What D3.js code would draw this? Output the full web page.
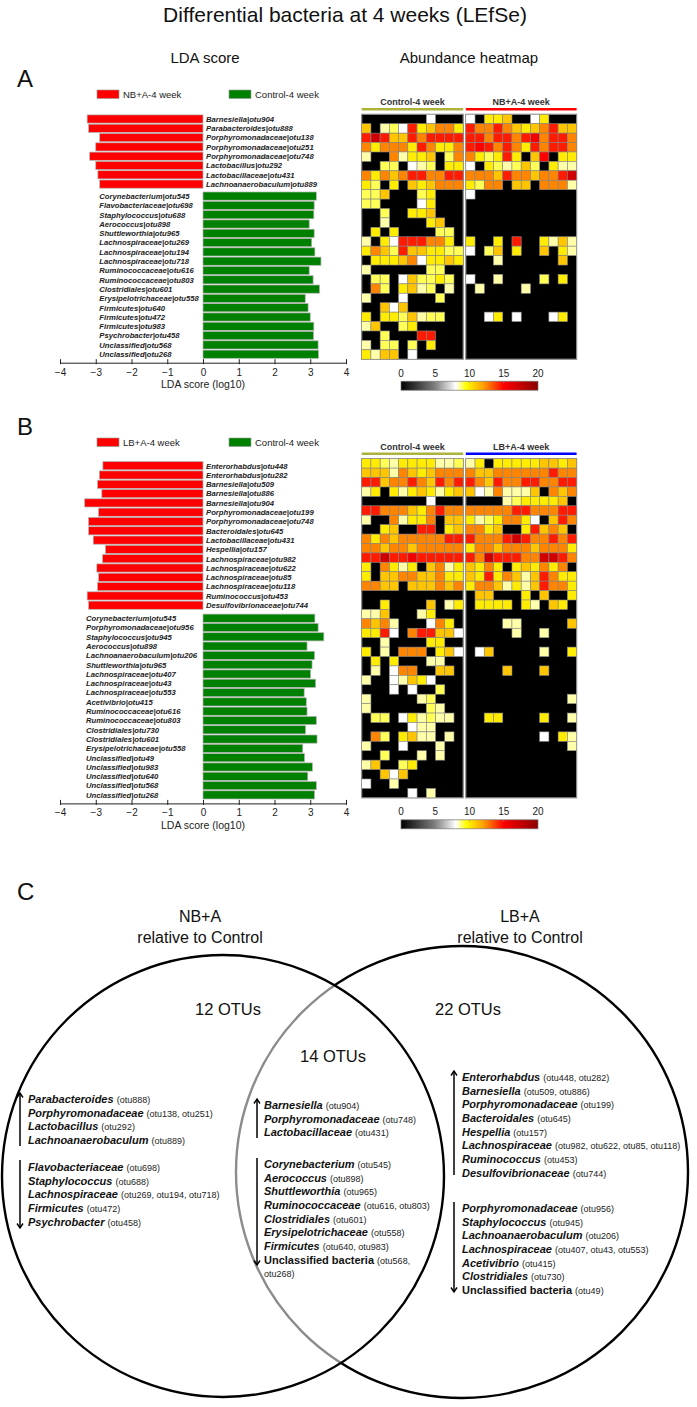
<!DOCTYPE html>
<html><head><meta charset="utf-8">
<script src="https://cdn.jsdelivr.net/npm/d3@7"></script>
<style>
body{margin:0;background:#fff}
svg{display:block}
text{font-family:"Liberation Sans",Arial,Helvetica,sans-serif}
</style>
</head><body>
<svg id="c" width="697" height="1407"></svg>
<script>
// ---------------- DATA ----------------
const ldaTicks = [-4,-3,-2,-1,0,1,2,3,4];
const colorTicks = [0,5,10,15,20];

// Panel A
const aLegend = ["NB+A-4 week","Control-4 week"];
const aHeatGroups = ["Control-4 week","NB+A-4 week"];
const aTaxa = ["Barnesiella|otu904","Parabacteroides|otu888","Porphyromonadaceae|otu138","Porphyromonadaceae|otu251",
  "Porphyromonadaceae|otu748","Lactobacillus|otu292","Lactobacillaceae|otu431","Lachnoanaerobaculum|otu889",
  "Corynebacterium|otu545","Flavobacteriaceae|otu698","Staphylococcus|otu688","Aerococcus|otu898",
  "Shuttleworthia|otu965","Lachnospiraceae|otu269","Lachnospiraceae|otu194","Lachnospiraceae|otu718",
  "Ruminococcaceae|otu616","Ruminococcaceae|otu803","Clostridiales|otu601","Erysipelotrichaceae|otu558",
  "Firmicutes|otu640","Firmicutes|otu472","Firmicutes|otu983","Psychrobacter|otu458",
  "Unclassified|otu568","Unclassified|otu268"];
const aLDA = [-3.24,-3.20,-2.89,-3.00,-3.17,-3.00,-2.94,-2.89,
  3.17,3.11,3.10,2.97,3.11,3.04,3.13,3.30,2.97,3.08,3.26,2.86,2.94,3.00,3.10,3.09,3.22,3.23];
const aHeatControl = [
  [0,0,0,0,0,0,0,8,0,0,0],
  [11,0,8.5,9,8,14.5,10,11,12.5,12.5,10],
  [14.5,17,14.5,11,11,14.5,12.5,14.5,14.5,14.5,14.5],
  [12.5,10,12.5,12.5,12.5,10,14.5,12.5,10,10,12.5],
  [8.5,0,0,12.5,8.5,10,10,11,0,9,12.5],
  [0,0,9,9,0,8,8.5,9,0,10,10],
  [12.5,10,12.5,11,12.5,14.5,14.5,12.5,12.5,14.5,14.5],
  [10,9,0,10,0,11,10,11,12.5,12.5,12.5],
  [9,9,11,0,0,0,9,10,0,0,0],
  [9,9,0,0,0,0,8,10,0,0,0],
  [0,0,9,0,0,10,10,11,0,0,0],
  [0,0,8.5,0,0,0,0,10,11,0,0],
  [0,10,0,10,0,0,0,0,9,9,0],
  [8.5,0,10,8,14.5,14.5,14.5,12.5,12.5,10,0],
  [10,12.5,11,9,14.5,11,11,10,10,9,9],
  [0,10,10,10,11,12.5,8,10,10,11,10],
  [8.5,0,0,0,0,0,0,9,9,0,0],
  [0,9,9,0,8,11,9,9,10,9,0],
  [0,12.5,9,0,10,11,8.5,9,0,8.5,0],
  [8.5,0,0,0,8,0,0,0,9,0,0],
  [0,0,11,8,11,0,0,0,0,0,0],
  [10,0,10,10,9,11,8.5,9,9,0,0],
  [8.5,11,0,0,9,10,0,0,0,0,0],
  [0,0,9,0,0,0,14.5,14.5,0,0,0],
  [8.5,0,9,9,0,9,0,10,0,0,0],
  [10,8.5,11,11,0,8,0,0,0,0,0]];
const aHeatTreated = [
  [8,0,10,10,11,0,0,8,10,0,0,0],
  [14.5,12.5,12.5,14.5,12.5,11,10,11,12.5,14.5,11,11],
  [14.5,14.5,12.5,14.5,14.5,12.5,14.5,15.5,12.5,14.5,14.5,12.5],
  [14.5,15,14.5,12.5,14.5,12.5,10,14.5,12.5,14.5,14.5,12.5],
  [12.5,10,9,10,14.5,10,0,11,15,0,10,10],
  [8,0,10,9,8.5,9,11,9,0,10,8.5,8.5],
  [12.5,12.5,12.5,11,14.5,12.5,12.5,11,12.5,12.5,14.5,17],
  [10,9,12.5,12.5,0,11,11,0,12.5,12.5,12.5,8.5],
  [8,0,0,0,0,0,0,0,0,0,0,0],
  [0,0,0,0,0,0,0,0,0,0,0,0],
  [0,0,0,0,0,0,0,0,0,0,0,0],
  [0,0,0,0,0,0,0,0,0,0,0,0],
  [0,0,0,0,0,0,0,0,0,0,0,0],
  [10,0,0,10,0,14.5,0,0,10,8.5,11,8.5],
  [8,0,9,11,0,10,0,0,11,0,10,8.5],
  [0,0,0,8.5,0,0,0,0,0,0,11,0],
  [0,0,0,0,0,0,0,0,0,0,0,0],
  [8,0,0,8.5,0,0,0,0,9,0,10,0],
  [0,8.5,0,0,0,0,8.5,0,0,0,0,0],
  [0,0,0,0,0,0,0,0,0,0,0,0],
  [0,0,0,0,0,0,0,0,0,0,0,0],
  [0,0,8,10,0,8,0,0,0,8,10,0],
  [0,0,0,0,0,0,0,0,0,0,0,0],
  [0,0,0,0,0,0,0,0,0,0,0,0],
  [0,0,0,0,0,0,0,0,0,0,0,0],
  [0,0,0,0,0,0,0,0,0,0,0,0]];

// Panel B
const bLegend = ["LB+A-4 week","Control-4 week"];
const bHeatGroups = ["Control-4 week","LB+A-4 week"];
const bTaxa = ["Enterorhabdus|otu448","Enterorhabdus|otu282","Barnesiella|otu509","Barnesiella|otu886",
  "Barnesiella|otu904","Porphyromonadaceae|otu199","Porphyromonadaceae|otu748","Bacteroidales|otu645",
  "Lactobacillaceae|otu431","Hespellia|otu157","Lachnospiraceae|otu982","Lachnospiraceae|otu622",
  "Lachnospiraceae|otu85","Lachnospiraceae|otu118","Ruminococcus|otu453","Desulfovibrionaceae|otu744",
  "Corynebacterium|otu545","Porphyromonadaceae|otu956","Staphylococcus|otu945","Aerococcus|otu898",
  "Lachnoanaerobaculum|otu206","Shuttleworthia|otu965","Lachnospiraceae|otu407","Lachnospiraceae|otu43",
  "Lachnospiraceae|otu553","Acetivibrio|otu415","Ruminococcaceae|otu616","Ruminococcaceae|otu803",
  "Clostridiales|otu730","Clostridiales|otu601","Erysipelotrichaceae|otu558","Unclassified|otu49",
  "Unclassified|otu983","Unclassified|otu640","Unclassified|otu568","Unclassified|otu268"];
const bLDA = [-2.80,-2.90,-2.95,-2.83,-3.31,-2.92,-3.20,-3.20,-3.07,-2.73,-2.81,-2.97,-2.92,-2.95,-3.24,-3.20,
  3.13,3.22,3.38,2.91,3.12,3.05,3.01,3.15,2.83,2.89,2.91,3.17,2.87,3.19,2.79,2.84,3.06,2.93,3.17,3.12];
const bHeatControl = [
  [10,10,9,8.5,10,10,10,10,8.5,8.5,9],
  [11,11,11,8.5,12.5,11,10,11,12.5,12.5,12.5],
  [14.5,14.5,11,12.5,12.5,14.5,12.5,11,14.5,12.5,14.5],
  [8.5,10,0,10,8.5,10,11,10,8.5,10,11],
  [0,0,0,0,0,0,0,8,0,0,0],
  [14.5,14.5,12.5,12.5,12.5,11,10,12.5,14.5,12.5,12.5],
  [8.5,0,0,12.5,8.5,10,10,12.5,0,11,11],
  [0,0,10,11,0,0,14.5,14.5,0,10,11],
  [12.5,10,12.5,11,12.5,12.5,12.5,12.5,12.5,14.5,14.5],
  [12.5,12.5,11,12.5,12.5,11,12.5,12.5,12.5,12.5,12.5],
  [14.5,14.5,17,14.5,14.5,15.5,14.5,14.5,14.5,14.5,14.5],
  [10,0,12.5,10,8.5,10,0,11,12.5,8.5,10],
  [10,0,11,11,12.5,12.5,11,11,12.5,10,10],
  [12.5,12.5,11,11,0,11,11,11,12.5,11,12.5],
  [0,0,0,0,0,0,0,0,0,0,0],
  [0,0,10,0,0,0,0,11,0,8.5,10],
  [8.5,8.5,11,0,0,0,8.5,10,0,0,0],
  [12.5,11,12.5,8.5,0,0,0,8,12.5,10,0],
  [10,10,14.5,8,0,12.5,14.5,14.5,11,11,8],
  [0,0,8.5,0,0,0,0,10,10,0,0],
  [10,0,8.5,0,12.5,12.5,12.5,0,10,11,8],
  [0,10,0,10,0,0,0,8.5,8.5,0,0],
  [0,8.5,0,8,12.5,12.5,0,0,11,11,0],
  [8.5,0,0,8,8.5,11,10,8,0,0,0],
  [0,0,0,8,0,8,0,0,9,0,0],
  [8.5,0,0,0,0,0,8.5,9,0,0,0],
  [8.5,0,0,0,0,0,0,9,8.5,0,0],
  [0,9,9,0,8,10,8.5,9,8.5,8.5,0],
  [0,0,0,0,0,8,8.5,8.5,0,0,0],
  [0,12.5,9,0,10,11,8.5,8.5,0,8.5,0],
  [8.5,0,0,0,8,0,0,0,8.5,0,0],
  [0,0,9,0,0,0,8.5,0,8.5,0,0],
  [8.5,11,0,0,9,10,0,0,0,0,0],
  [0,0,11,8,11,0,0,0,0,0,0],
  [8,0,0,8.5,0,0,0,0,0,0,0],
  [0,0,0,0,0,8,0,8.5,0,0,0]];
const bHeatTreated = [
  [8.5,10,0,10,10,10,10,10,11,11,10,11],
  [12.5,11,11,12.5,12.5,12.5,12.5,12.5,12.5,14.5,12.5,12.5],
  [14.5,12.5,11,14.5,12.5,12.5,14.5,14.5,12.5,12.5,14.5,14.5],
  [11,8,8.5,12.5,8.5,8.5,8.5,11,0,12.5,11,12.5],
  [0,0,0,0,8.5,9,10,10,10,10,11,0],
  [12.5,12.5,12.5,12.5,12.5,14.5,14.5,12.5,12.5,12.5,14.5,14.5],
  [10,8.5,9,10,12.5,12.5,10,8,0,11,14.5,12.5],
  [12.5,12.5,10,11,0,0,10,14.5,11,12.5,11,0],
  [14.5,12.5,12.5,12.5,14.5,17,14.5,12.5,12.5,14.5,12.5,14.5],
  [10,12.5,12.5,11,12.5,12.5,12.5,11,12.5,12.5,12.5,10],
  [14.5,12.5,17,14.5,14.5,14.5,12.5,12.5,17,17,14.5,12.5],
  [11,10,12.5,10,0,10,11,10,12.5,10,12.5,0],
  [11,10,14.5,10,12.5,11,8.5,11,14.5,12.5,10,10],
  [10,12.5,12.5,11,8.5,10,8.5,11,14.5,12.5,12.5,10],
  [0,11,11,0,0,0,10,0,11,0,0,10],
  [0,10,10,10,10,0,10,8.5,0,11,10,0],
  [0,0,0,0,0,0,0,0,0,0,0,0],
  [0,0,0,0,8.5,8.5,0,0,0,0,0,11],
  [0,0,0,0,0,8.5,0,0,8.5,0,0,0],
  [0,0,0,0,0,0,0,0,0,0,0,0],
  [0,8,11,0,0,0,0,0,8.5,0,0,10],
  [0,0,0,0,0,0,0,0,0,0,0,0],
  [0,0,0,0,11,0,0,0,11,0,0,0],
  [0,0,0,0,0,0,0,0,0,0,0,0],
  [0,0,0,0,0,0,0,0,0,0,0,0],
  [0,0,0,0,0,0,0,0,0,0,0,8.5],
  [0,0,0,0,0,0,0,0,0,0,0,0],
  [0,0,10,10,0,0,0,0,10,0,0,8.5],
  [0,0,0,0,0,0,0,0,0,0,0,0],
  [0,0,0,0,0,0,0,0,8,0,10,8.5],
  [0,0,0,0,0,0,0,0,0,0,0,8.5],
  [0,0,0,0,0,0,0,0,0,0,0,0],
  [0,0,0,0,0,0,0,0,0,0,0,0],
  [0,0,0,0,0,0,0,0,0,0,0,0],
  [0,0,0,0,0,0,0,0,0,0,0,0],
  [0,0,0,0,0,0,0,0,0,0,0,0]];

// Panel C (Venn)
const vennHeaders = [["NB+A","relative to Control"],["LB+A","relative to Control"]];
const vennCounts = ["12 OTUs","14 OTUs","22 OTUs"];
const vennLeftUp = [["Parabacteroides","(otu888)"],["Porphyromonadaceae","(otu138, otu251)"],["Lactobacillus","(otu292)"],["Lachnoanaerobaculum","(otu889)"]];
const vennLeftDown = [["Flavobacteriaceae","(otu698)"],["Staphylococcus","(otu688)"],["Lachnospiraceae","(otu269, otu194, otu718)"],["Firmicutes","(otu472)"],["Psychrobacter","(otu458)"]];
const vennMidUp = [["Barnesiella","(otu904)"],["Porphyromonadaceae","(otu748)"],["Lactobacillaceae","(otu431)"]];
const vennMidDown = [["Corynebacterium","(otu545)"],["Aerococcus","(otu898)"],["Shuttleworthia","(otu965)"],["Ruminococcaceae","(otu616, otu803)"],["Clostridiales","(otu601)"],["Erysipelotrichaceae","(otu558)"],["Firmicutes","(otu640, otu983)"],["Unclassified bacteria","(otu568,"],["","otu268)"]];
const vennRightUp = [["Enterorhabdus","(otu448, otu282)"],["Barnesiella","(otu509, otu886)"],["Porphyromonadaceae","(otu199)"],["Bacteroidales","(otu645)"],["Hespellia","(otu157)"],["Lachnospiraceae","(otu982, otu622, otu85, otu118)"],["Ruminococcus","(otu453)"],["Desulfovibrionaceae","(otu744)"]];
const vennRightDown = [["Porphyromonadaceae","(otu956)"],["Staphylococcus","(otu945)"],["Lachnoanaerobaculum","(otu206)"],["Lachnospiraceae","(otu407, otu43, otu553)"],["Acetivibrio","(otu415)"],["Clostridiales","(otu730)"],["Unclassified bacteria","(otu49)"]];

// ---------------- DRAWING ----------------
const svg = d3.select("#c");
const defs = svg.append("defs");
const color = d3.scaleLinear()
  .domain([0,5,8,9.5,12,15,20])
  .range(["#000000","#808080","#ffffff","#ffff00","#ffa000","#ff0000","#8b0000"])
  .clamp(true);

// gradient for colour bars
const grad = defs.append("linearGradient").attr("id","cbar");
d3.range(0,20.01,0.5).forEach(v=>{
  grad.append("stop").attr("offset",(v/20*100)+"%").attr("stop-color",color(v));
});

svg.append("text").attr("x",345).attr("y",22).attr("text-anchor","middle")
  .attr("font-size",21).attr("fill","#111").text("Differential bacteria at 4 weeks (LEfSe)");
svg.append("text").attr("x",205).attr("y",63).attr("text-anchor","middle")
  .attr("font-size",15).attr("fill","#111").text("LDA score");
svg.append("text").attr("x",469).attr("y",63).attr("text-anchor","middle")
  .attr("font-size",15).attr("fill","#111").text("Abundance heatmap");

function drawPanel(o){
  const g = svg.append("g");
  g.append("text").attr("x",17).attr("y",o.dy+87).attr("font-size",24).attr("fill","#111").text(o.letter);

  // legend
  const lg = [["#ff0000",97,o.legend[0]],["#008000",229,o.legend[1]]];
  lg.forEach(([c,lx,t])=>{
    g.append("rect").attr("x",lx).attr("y",o.dy+90).attr("width",22).attr("height",8.5)
      .attr("fill",c).attr("stroke","#999").attr("stroke-width",0.6);
    g.append("text").attr("x",lx+26).attr("y",o.dy+97.5).attr("font-size",9.5).attr("fill","#222").text(t);
  });

  const x = d3.scaleLinear().domain([-4,4]).range([60,346]);
  const n = o.taxa.length;
  const nRed = o.lda.filter(v=>v<0).length;
  const rowY = i => o.barTop + i*9.3 + (i>=nRed ? o.gap : 0);

  g.selectAll(null).data(o.lda).join("rect")
    .attr("x",v=>x(Math.min(0,v))).attr("width",v=>Math.abs(x(v)-x(0)))
    .attr("y",(v,i)=>rowY(i)-4.1).attr("height",8.2)
    .attr("fill",v=>v<0?"#ff0000":"#008000")
    .attr("stroke","#b4b4b4").attr("stroke-width",0.7);

  g.selectAll(null).data(o.taxa).join("text")
    .attr("x",(t,i)=>o.lda[i]<0 ? x(0)+3 : o.greenLabelX)
    .attr("y",(t,i)=>rowY(i)+2.8)
    .attr("font-size",7.7).attr("font-weight","bold").attr("font-style","italic")
    .attr("fill","#222").text(t=>t);

  const axisY = rowY(n-1)+8.5;
  const ax = g.append("g").attr("transform",`translate(0,${axisY})`)
    .call(d3.axisBottom(x).tickValues(ldaTicks).tickSizeInner(-3.5).tickSizeOuter(0).tickPadding(6));
  ax.select(".domain").attr("stroke","#222").attr("stroke-width",1);
  ax.selectAll(".tick line").attr("stroke","#222").attr("y1",1.5);
  ax.selectAll(".tick text").attr("font-size",10).attr("fill","#222")
    .style("font-family",'"Liberation Sans",Arial,sans-serif');
  g.append("text").attr("x",x(0)).attr("y",axisY+25.5).attr("text-anchor","middle")
    .attr("font-size",10.5).attr("fill","#222").text("LDA score (log10)");

  // heatmap
  const hTop = o.heatTop;
  const yH = d3.scaleBand().domain(d3.range(n)).range([hTop, hTop+n*9.42]);
  const groups = [
    {vals:o.heatC, x0:361.7, x1:463.2, name:o.heatGroups[0], line:"#adb33a"},
    {vals:o.heatT, x0:465.8, x1:576.6, name:o.heatGroups[1], line:o.treatLine}];
  groups.forEach(gr=>{
    const ncol = gr.vals[0].length;
    const xH = d3.scaleBand().domain(d3.range(ncol)).range([gr.x0,gr.x1]);
    g.append("rect").attr("x",gr.x0).attr("y",hTop).attr("width",gr.x1-gr.x0).attr("height",n*9.42)
      .attr("fill","#000").attr("stroke","#8a8a8a").attr("stroke-width",1.2);
    const cells = [];
    gr.vals.forEach((row,r)=>row.forEach((v,c)=>cells.push({r,c,v})));
    g.selectAll(null).data(cells.filter(d=>d.v>0)).join("rect")
      .attr("x",d=>xH(d.c)).attr("y",d=>yH(d.r))
      .attr("width",xH.bandwidth()).attr("height",yH.bandwidth())
      .attr("fill",d=>color(d.v)).attr("stroke","#8c8c8c").attr("stroke-width",0.6);
    g.append("line").attr("x1",gr.x0).attr("x2",gr.x1).attr("y1",hTop-5).attr("y2",hTop-5)
      .attr("stroke",gr.line).attr("stroke-width",2.6);
    g.append("text").attr("x",(gr.x0+gr.x1)/2).attr("y",hTop-9).attr("text-anchor","middle")
      .attr("font-size",9).attr("font-weight","bold").attr("fill","#333").text(gr.name);
  });

  // colour bar
  const hBot = hTop+n*9.42;
  const cx = d3.scaleLinear().domain([0,20]).range([401,538]);
  g.append("rect").attr("x",401).attr("y",hBot+22).attr("width",137).attr("height",9)
    .attr("fill","url(#cbar)").attr("stroke","#777").attr("stroke-width",0.7);
  g.selectAll(null).data(colorTicks).join("text")
    .attr("x",d=>cx(d)).attr("y",hBot+17.5).attr("text-anchor","middle")
    .attr("font-size",10).attr("fill","#222").text(d=>d);
  g.selectAll(null).data(colorTicks.slice(1,-1)).join("line")
    .attr("x1",d=>cx(d)).attr("x2",d=>cx(d)).attr("y1",hBot+22).attr("y2",hBot+24)
    .attr("stroke","#999").attr("stroke-width",0.6);
}

drawPanel({letter:"A", dy:0, legend:aLegend, taxa:aTaxa, lda:aLDA, barTop:119, gap:2.7,
  greenLabelX:99.3, heatTop:114.3, heatC:aHeatControl, heatT:aHeatTreated, heatGroups:aHeatGroups, treatLine:"#ff0000"});
drawPanel({letter:"B", dy:348, legend:bLegend, taxa:bTaxa, lda:bLDA, barTop:465.7, gap:3.7,
  greenLabelX:86, heatTop:458.7, heatC:bHeatControl, heatT:bHeatTreated, heatGroups:bHeatGroups, treatLine:"#0000ff"});

// ---------------- Panel C ----------------
const gc = svg.append("g");
gc.append("text").attr("x",17).attr("y",900).attr("font-size",24).attr("fill","#111").text("C");
[[200,vennHeaders[0]],[520,vennHeaders[1]]].forEach(([hx,lines])=>{
  lines.forEach((t,i)=>gc.append("text").attr("x",hx).attr("y",922+i*21).attr("text-anchor","middle")
    .attr("font-size",16).attr("fill","#111").text(t));
});

const L = {cx:223, cy:1176, r:221};
const R = {cx:462, cy:1172, r:226};
defs.append("clipPath").attr("id","inL")
  .append("circle").attr("cx",L.cx).attr("cy",L.cy).attr("r",L.r);
defs.append("clipPath").attr("id","outL").append("path")
  .attr("clip-rule","evenodd")
  .attr("d",`M0,0H697V1407H0Z M${L.cx-L.r},${L.cy} a${L.r},${L.r} 0 1,0 ${2*L.r},0 a${L.r},${L.r} 0 1,0 ${-2*L.r},0Z`);
gc.append("circle").attr("cx",R.cx).attr("cy",R.cy).attr("r",R.r).attr("clip-path","url(#outL)")
  .attr("fill","none").attr("stroke","#000").attr("stroke-width",2.4);
gc.append("circle").attr("cx",R.cx).attr("cy",R.cy).attr("r",R.r).attr("clip-path","url(#inL)")
  .attr("fill","none").attr("stroke","#8c8c8c").attr("stroke-width",2.4);
gc.append("circle").attr("cx",L.cx).attr("cy",L.cy).attr("r",L.r)
  .attr("fill","none").attr("stroke","#000").attr("stroke-width",2.4);

[[228,1015,vennCounts[0]],[333,1062,vennCounts[1]],[468,1015,vennCounts[2]]].forEach(([tx,ty,t])=>{
  gc.append("text").attr("x",tx).attr("y",ty).attr("text-anchor","middle")
    .attr("font-size",16.5).attr("fill","#111").text(t);
});

function vennList(items, x0, y0, step){
  items.forEach(([name,otu],i)=>{
    const t = gc.append("text").attr("x",x0).attr("y",y0+i*step+3.8).attr("fill","#111");
    if(name){
      t.append("tspan").attr("font-size",11).attr("font-weight","bold")
        .attr("font-style",name.startsWith("Unclassified")?"normal":"italic").text(name+" ");
    }
    t.append("tspan").attr("font-size",9).attr("fill","#222").text(otu);
  });
}
function arrow(x, yTop, yBot, up){
  gc.append("line").attr("x1",x).attr("x2",x).attr("y1",yTop).attr("y2",yBot)
    .attr("stroke","#000").attr("stroke-width",1.5);
  const yh = up ? yTop : yBot, s = up ? 1 : -1;
  gc.append("path").attr("d",`M${x-3},${yh+4.5*s} L${x},${yh} L${x+3},${yh+4.5*s}`)
    .attr("fill","none").attr("stroke","#000").attr("stroke-width",1.4);
}
const step = 13.7;
vennList(vennLeftUp, 28, 1099, step);      arrow(20, 1093, 1146, true);
vennList(vennLeftDown, 28, 1167, step);    arrow(20, 1160, 1228, false);
vennList(vennMidUp, 264, 1105, step);      arrow(257, 1099, 1138, true);
vennList(vennMidDown, 264, 1164, step);    arrow(257, 1158, 1265, false);
vennList(vennRightUp, 462, 1077, step);    arrow(454, 1071, 1175, true);
vennList(vennRightDown, 462, 1208, step);  arrow(454, 1202, 1292, false);
</script>
</body></html>
